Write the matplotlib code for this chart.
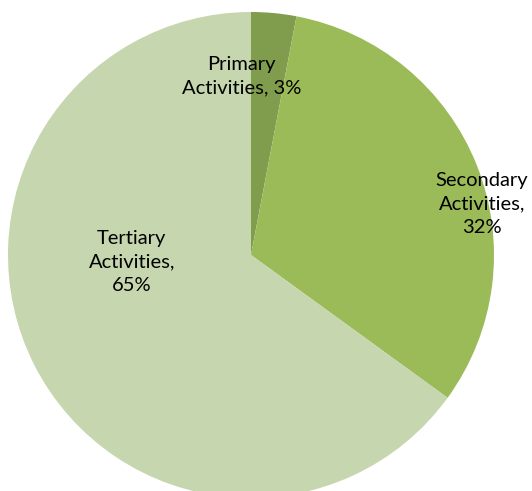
import matplotlib.pyplot as plt

# Share of employment by sector
sectors = ["Primary\nActivities, 3%", "Secondary\nActivities,\n32%", "Tertiary\nActivities,\n65%"]
shares = [3, 32, 65]
colors = ["#7f9d4d", "#9bbb59", "#c6d6ae"]

# label centres in data units (radius = 1)
label_pos = [(-0.04, 0.735), (0.95, 0.21), (-0.49, -0.03)]

fig = plt.figure(figsize=(5.32, 4.91), dpi=100)
ax = fig.add_axes([0, 0, 1, 1])

r = 243.0
ax.pie(shares, colors=colors, startangle=90, counterclock=False, radius=1,
       wedgeprops=dict(linewidth=0))
ax.set_xlim(-251 / r, (532 - 251) / r)
ax.set_ylim(-236 / r, (491 - 236) / r)
ax.set_aspect("auto")
ax.axis("off")

for text, (x, y) in zip(sectors, label_pos):
    ax.text(x, y, text, ha="center", va="center", fontsize=14.5,
            family="Lato", linespacing=1.45, color="black")

fig.savefig("out.png", dpi=100)
